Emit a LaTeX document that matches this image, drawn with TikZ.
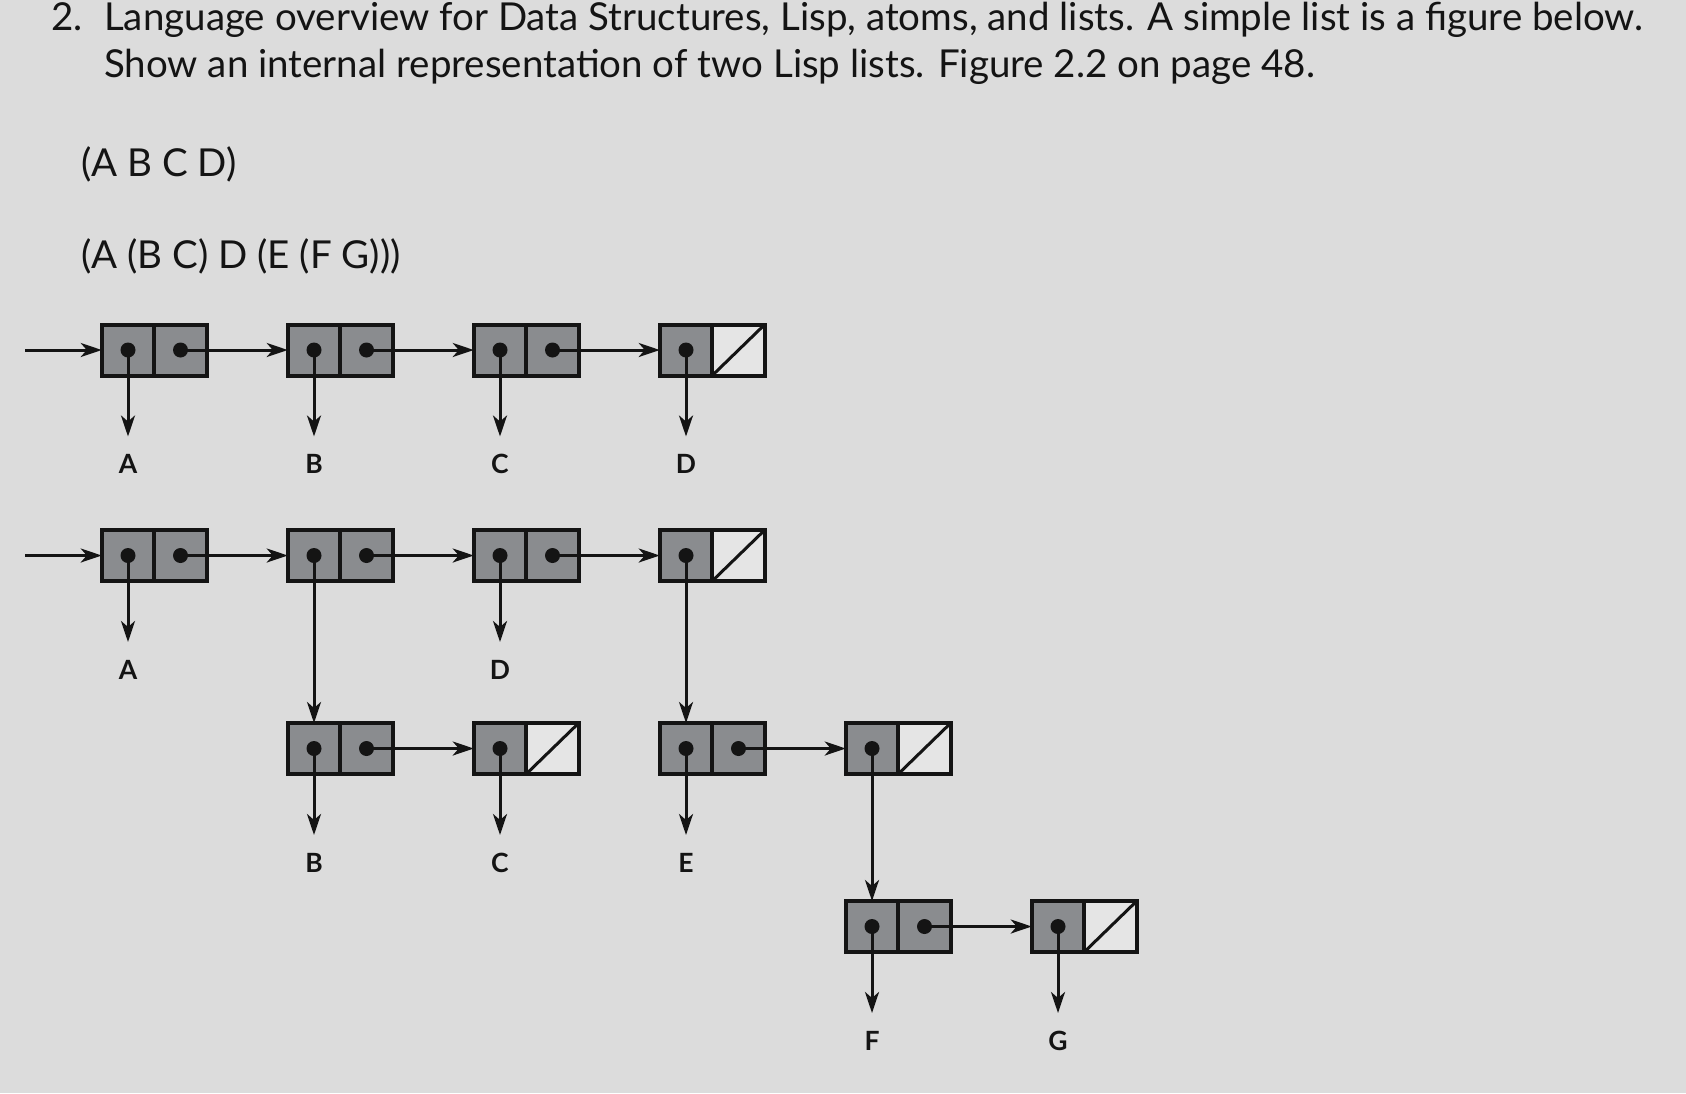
\documentclass[tikz,border=0pt]{standalone}
\usepackage{fontspec}
\setmainfont{Lato}
\usetikzlibrary{positioning}
\usetikzlibrary{arrows.meta}

\definecolor{bggray}{RGB}{220,220,220}
\definecolor{cellgray}{RGB}{138,140,143}
\definecolor{nilgray}{RGB}{229,229,229}
\definecolor{ink}{RGB}{20,20,20}

\begin{document}
\begin{tikzpicture}
			[x=1pt, y=-1pt, node distance={81pt},
			cell/.style = {draw=ink, line width=4pt, minimum width=52.5pt, minimum height=51pt, inner sep=0pt, outer sep=0pt},
			box/.style = {cell, fill=cellgray, path picture={\fill[ink] (path picture bounding box.center) circle (7.5pt);}},
			nil/.style = {cell, fill=nilgray, path picture={\draw[ink, line width=3pt] (path picture bounding box.south west) -- (path picture bounding box.north east);}},
			ptr/.style = {draw=ink, line width=3pt, -{Stealth[length=21pt, width=14pt, inset=6pt]}},
			atom/.style = {font=\fontsize{26.5pt}{31pt}\selectfont\bfseries, text=ink, inner sep=0pt, text height=19pt, text depth=0pt, outer ysep=18pt},
			title/.style = {font=\fontsize{38.5pt}{46pt}\selectfont, text=ink, inner sep=0pt, anchor=base west}]
			\path[use as bounding box, fill=bggray] (0,0) rectangle (1686,1093);
			% question text
			\node[title] (num) at (51,30.5) {2.};
			\node[title] (t1) at (104,30.5) {Language overview for Data Structures, Lisp, atoms, and lists. A simple list is a figure below.};
			\node[title] (t2) at (104,77) {Show an internal representation of two Lisp lists. Figure 2.2 on page 48.};
			\node[title] (l1) at (81,176) {(A B C D)};
			\node[title] (l2) at (81,268) {(A (B C) D (E (F G)))};
			% (A B C D)
			\node[box] (p1) at (128,350) {};
			\node[box] (p1n) [right=0pt of p1] {};
			\node[box] (p2) [right=of p1n] {};
			\node[box] (p2n) [right=0pt of p2] {};
			\node[box] (p3) [right=of p2n] {};
			\node[box] (p3n) [right=0pt of p3] {};
			\node[box] (p4) [right=of p3n] {};
			\node[nil] (p4n) [right=0pt of p4] {};
			\node[atom] (pa) [below=61pt of p1] {A};
			\node[atom] (pb) [below=61pt of p2] {B};
			\node[atom] (pc) [below=61pt of p3] {C};
			\node[atom] (pd) [below=61pt of p4] {D};
			\coordinate (in1) at (25,350);
			\draw[ptr] (in1) -- (p1);
			\draw[ptr] (p1n.center) -- (p2);
			\draw[ptr] (p2n.center) -- (p3);
			\draw[ptr] (p3n.center) -- (p4);
			\draw[ptr] (p1.center) -- (pa);
			\draw[ptr] (p2.center) -- (pb);
			\draw[ptr] (p3.center) -- (pc);
			\draw[ptr] (p4.center) -- (pd);
			% (A (B C) D (E (F G)))
			\node[box] (q1) at (128,555.5) {};
			\node[box] (q1n) [right=0pt of q1] {};
			\node[box] (q2) [right=of q1n] {};
			\node[box] (q2n) [right=0pt of q2] {};
			\node[box] (q3) [right=of q2n] {};
			\node[box] (q3n) [right=0pt of q3] {};
			\node[box] (q4) [right=of q3n] {};
			\node[nil] (q4n) [right=0pt of q4] {};
			\node[atom] (qa) [below=61pt of q1] {A};
			\node[atom] (qd) [below=61pt of q3] {D};
			% (B C)
			\node[box] (r1) [below=142pt of q2] {};
			\node[box] (r1n) [right=0pt of r1] {};
			\node[box] (r2) [right=of r1n] {};
			\node[nil] (r2n) [right=0pt of r2] {};
			\node[atom] (rb) [below=61pt of r1] {B};
			\node[atom] (rc) [below=61pt of r2] {C};
			% (E (F G))
			\node[box] (r3) [below=142pt of q4] {};
			\node[box] (r3n) [right=0pt of r3] {};
			\node[box] (r4) [right=of r3n] {};
			\node[nil] (r4n) [right=0pt of r4] {};
			\node[atom] (re) [below=61pt of r3] {E};
			% (F G)
			\node[box] (s1) [below=127pt of r4] {};
			\node[box] (s1n) [right=0pt of s1] {};
			\node[box] (s2) [right=of s1n] {};
			\node[nil] (s2n) [right=0pt of s2] {};
			\node[atom] (sf) [below=61pt of s1] {F};
			\node[atom] (sg) [below=61pt of s2] {G};
			\coordinate (in2) at (25,555.5);
			\draw[ptr] (in2) -- (q1);
			\draw[ptr] (q1n.center) -- (q2);
			\draw[ptr] (q2n.center) -- (q3);
			\draw[ptr] (q3n.center) -- (q4);
			\draw[ptr] (q1.center) -- (qa);
			\draw[ptr] (q2.center) -- (r1);
			\draw[ptr] (q3.center) -- (qd);
			\draw[ptr] (q4.center) -- (r3);
			\draw[ptr] (r1n.center) -- (r2);
			\draw[ptr] (r1.center) -- (rb);
			\draw[ptr] (r2.center) -- (rc);
			\draw[ptr] (r3n.center) -- (r4);
			\draw[ptr] (r3.center) -- (re);
			\draw[ptr] (r4.center) -- (s1);
			\draw[ptr] (s1n.center) -- (s2);
			\draw[ptr] (s1.center) -- (sf);
			\draw[ptr] (s2.center) -- (sg);
		\end{tikzpicture}
\end{document}
